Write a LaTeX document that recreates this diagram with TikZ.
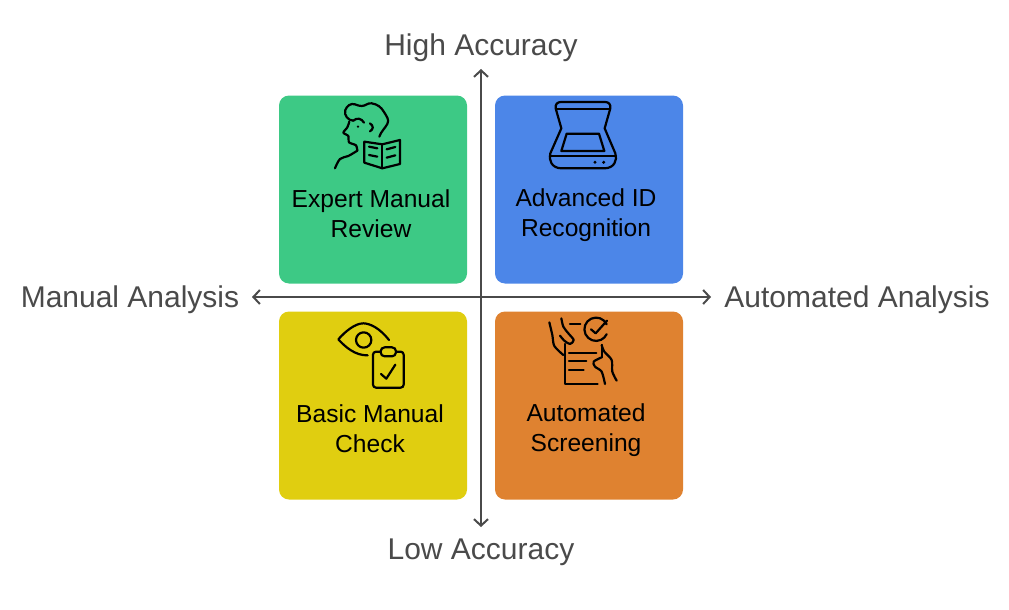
\documentclass[tikz,border=0pt]{standalone}
\usepackage{fontspec}
\setmainfont{Liberation Sans}
\usetikzlibrary{arrows.meta}
\definecolor{axisgray}{HTML}{4A4A4A}
\definecolor{expertgreen}{HTML}{3DC985}
\definecolor{scanblue}{HTML}{4C86E8}
\definecolor{checkyellow}{HTML}{E0CE10}
\definecolor{screenorange}{HTML}{DF8230}
\tikzset{
  quad/.style={minimum width=188pt,minimum height=188pt,rounded corners=10pt,inner sep=0pt},
  quadtext/.style={align=center,font=\fontsize{24.6}{30}\selectfont,text=black},
  axislabel/.style={font=\fontsize{30}{34}\selectfont,text=axisgray,inner sep=0pt},
  axisline/.style={draw=axisgray,line width=2pt,{Straight Barb[length=6.5pt,width=14pt]}-{Straight Barb[length=6.5pt,width=14pt]}},
  icon/.style={draw=black,line width=2.2pt,line cap=round,line join=round},
}
\begin{document}
\begin{tikzpicture}[x=1pt,y=-1pt]
\useasboundingbox (0,0) rectangle (1009,610);
% quadrants
\node[quad,fill=expertgreen] (expert) at (373,189.5) {};
\node[quad,fill=scanblue] (advanced) at (589,189.5) {};
\node[quad,fill=checkyellow] (basic) at (373,405.5) {};
\node[quad,fill=screenorange] (auto) at (589,405.5) {};
\node[quadtext] (experttext) at (371,213.5) {Expert Manual\\Review};
\node[quadtext] (advancedtext) at (586,215) {Advanced ID\\Recognition};
\node[quadtext] (basictext) at (370,429) {Basic Manual\\Check};
\node[quadtext] (autotext) at (586,430.5) {Automated\\Screening};
% axes
\node[axislabel] (high) at (481,48) {High Accuracy};
\node[axislabel] (low) at (481,552) {Low Accuracy};
\node[axislabel] (manual) at (130,300) {Manual Analysis};
\node[axislabel] (automated) at (857,300) {Automated Analysis};
\coordinate (top) at (481,69);
\coordinate (bottom) at (481,527);
\coordinate (left) at (252,297);
\coordinate (right) at (711,297);
\draw[axisline] (top) -- (bottom);
\draw[axisline] (left) -- (right);
% reader icon
\begin{scope}[shift={(320,90)},x=0.3333pt,y=-0.3333pt,every path/.style={icon}]
\draw (100,92) to[out=180,in=250] (76,60) to[out=70,in=160] (105,43) to[out=340,in=180] (125,48) to[out=0,in=170] (155,40) to[out=350,in=120] (192,66) to[out=300,in=60] (202,102) to[out=240,in=70] (178,140);
\draw plot[smooth,tension=0.4] coordinates {(88,95) (82,112) (70,128) (85,138) (87,157) (108,166) (112,182)};
\draw (100,92) .. controls (110,82) and (125,85) .. (132,98);
\draw plot[smooth,tension=0.6] coordinates {(112,182) (85,198) (60,207) (45,235)};
\draw (150,100) .. controls (162,108) and (160,118) .. (150,124);
\fill[black,draw=none] (114,110) circle (4);
\draw (133,155) -- (187,163) -- (240,150) -- (240,222) -- (187,235) -- (133,218) -- cycle;
\draw (187,163) -- (187,235);
\draw (147,170) -- (172,175) (147,195) -- (172,200);
\draw (200,178) -- (226,171) (200,203) -- (226,196);
\end{scope}
% scanner icon
\begin{scope}[shift={(535,90)},x=0.3333pt,y=-0.3333pt,every path/.style={icon}]
\draw (79,115) -- (62,55) .. controls (60,42) and (68,36) .. (78,36) -- (210,36) .. controls (220,36) and (228,42) .. (226,55) -- (209,115);
\draw (64,57) -- (224,57);
\draw (79,115) -- (46,190) .. controls (40,210) and (50,235) .. (80,235) -- (208,235) .. controls (238,235) and (248,210) .. (241,190) -- (209,115);
\draw (44,198) -- (243,198);
\draw (95,131) -- (192,131) -- (208,183) -- (79,183) -- cycle;
\fill[black,draw=none] (180,217) circle (5) (206,217) circle (5);
\end{scope}
% eye and clipboard icon
\begin{scope}[shift={(325,310)},x=0.3333pt,y=-0.3333pt,every path/.style={icon}]
\draw (192,90) .. controls (165,55) and (135,40) .. (115,40) .. controls (90,40) and (60,65) .. (40,88) .. controls (60,110) and (90,137) .. (128,136);
\draw (116,90) circle (23);
\draw[rounded corners=3pt] (167,125) -- (144,125) -- (144,233) -- (236,233) -- (236,125) -- (213,125);
\draw[rounded corners=4pt] (167,112) rectangle (213,139);
\draw (168,192) -- (184,206) -- (211,164);
\end{scope}
% checklist icon
\begin{scope}[shift={(535,310)},x=0.3333pt,y=-0.3333pt,every path/.style={icon}]
\draw plot[smooth,tension=0.5] coordinates {(43,37) (52,75) (58,108) (85,135)};
\draw plot[smooth,tension=0.5] coordinates {(79,25) (85,50) (100,70) (116,90) (105,102) (88,92) (75,77)};
\draw (90,102) -- (90,222) -- (188,222);
\draw (105,42) -- (136,42);
\draw (102,128) -- (184,128) (102,154) -- (154,154) (102,180) -- (146,180);
\draw (215,43) arc[start angle=-25,end angle=-335,radius=35];
\draw (168,58) -- (182,70) -- (216,32);
\draw plot[smooth,tension=0.5] coordinates {(200,105) (208,125) (230,150) (232,185) (245,212)};
\draw plot[smooth,tension=0.5] coordinates {(200,142) (176,155) (180,170) (200,185) (210,222)};
\draw (200,105) -- (200,142);
\end{scope}
\end{tikzpicture}
\end{document}
